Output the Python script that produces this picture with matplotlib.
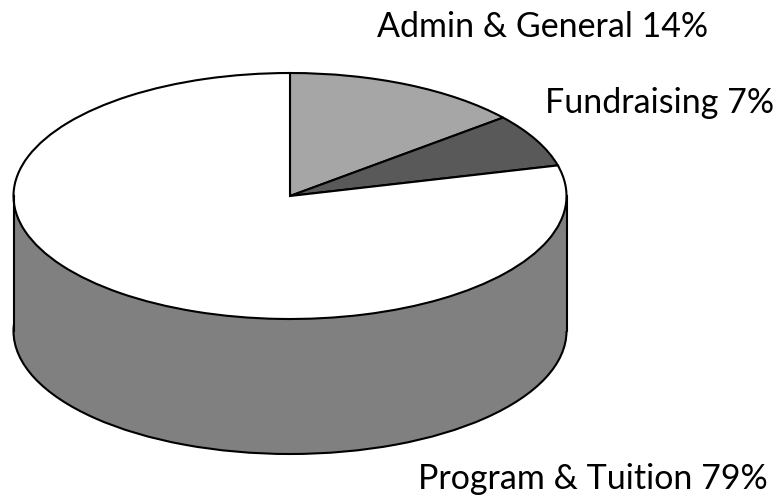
import matplotlib
matplotlib.use("Agg")
import matplotlib.pyplot as plt
from matplotlib.patches import Rectangle

categories = ["Admin & General 14%", "Fundraising 7%", "Program & Tuition 79%"]
values = [14, 7, 79]
top_colors = ["#a6a6a6", "#595959", "#ffffff"]
side_color = "#808080"

W, H = 780, 497
cx, cy, rx, ry, depth = 290, 196, 276.5, 123, 135

fig = plt.figure(figsize=(W / 100, H / 100), dpi=100)
ax = fig.add_axes([0, 0, 1, 1])
edge = dict(edgecolor="black", linewidth=1.5)
d = depth / ry

# side of the cylinder
ax.pie([sum(values)], colors=[side_color], center=(0, -d), startangle=90,
       wedgeprops=edge)
ax.add_patch(Rectangle((-1, -d), 2, d, facecolor=side_color, edgecolor="none"))
ax.plot([-1, -1], [0, -d], color="black", lw=1.5)
ax.plot([1, 1], [0, -d], color="black", lw=1.5)

# top face
ax.pie(values, colors=top_colors, startangle=90, counterclock=False,
       wedgeprops=edge)

ax.set_aspect("auto")
ax.set_xlim(-cx / rx, (W - cx) / rx)
ax.set_ylim((cy - H) / ry, cy / ry)
ax.axis("off")

font = dict(family="Lato", fontsize=24.5, color="black", va="baseline", transform=fig.transFigure)
positions = [(377, 37), (545, 113), (418, 489)]
for label, (x, y) in zip(categories, positions):
    ax.text(x / W, 1 - y / H, label, ha="left", **font)

fig.savefig("out.png", dpi=100)
